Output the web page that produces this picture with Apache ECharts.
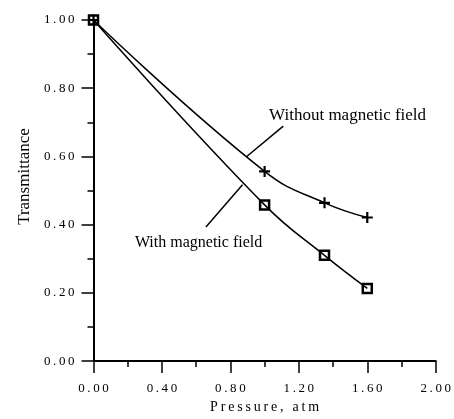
<!DOCTYPE html>
<html>
<head>
<meta charset="utf-8">
<script src="https://cdn.jsdelivr.net/npm/echarts@6/dist/echarts.min.js"></script>
<style>html,body{margin:0;padding:0;background:#fff}#c{width:454px;height:419px}</style>
</head>
<body>
<div id="c"></div>
<script>
// Data
var pressure = [0.00, 1.00, 1.35, 1.60];
var withoutField = [1.00, 0.556, 0.464, 0.421];
var withField = [1.00, 0.458, 0.310, 0.213];
var xTicks = [0.00, 0.40, 0.80, 1.20, 1.60, 2.00];
var yTicks = [0.00, 0.20, 0.40, 0.60, 0.80, 1.00];
var labelWithout = 'Without magnetic field';
var labelWith = 'With magnetic field';
var xTitle = 'Pressure, atm';
var yTitle = 'Transmittance';
// annotation leader lines (data coordinates) and label anchors
var leaderWithout = [[1.109, 0.689], [0.894, 0.599]];
var leaderWith = [[0.871, 0.517], [0.657, 0.393]];
var anchorWithout = [1.485, 0.720];
var anchorWith = [0.614, 0.348];

var TS = '\u2009';
function spaced(s){ return s.split('').join(TS); }
var serif = '"Liberation Serif", "Times New Roman", serif';

function pairs(xs, ys){ return xs.map(function(x,i){ return [x, ys[i]]; }); }

var plusPath = 'path://M4,0H6V4H10V6H6V10H4V6H0V4H4Z';

var chart = echarts.init(document.getElementById('c'), null, {renderer:'canvas'});
chart.setOption({
  animation: false,
  backgroundColor: '#fff',
  grid: {left: 93.5, right: 15, top: 20, bottom: 54.5, containLabel: false},
  xAxis: {
    type: 'value', min: 0, max: 2, interval: 0.4,
    name: spaced(xTitle), nameLocation: 'middle', nameGap: 28,
    nameTextStyle: {fontFamily: serif, fontSize: 14, color: '#000'},
    axisLine: {show: true, onZero: false, lineStyle: {color: '#000', width: 2}},
    axisTick: {show: true, inside: false, length: 12, lineStyle: {color: '#000', width: 1.5}},
    minorTick: {show: true, splitNumber: 2, length: 6, lineStyle: {color: '#000', width: 1.5}},
    axisLabel: {margin: 21, fontFamily: serif, fontSize: 13, color: '#000',
      formatter: function(v){ return spaced(v.toFixed(2)); }},
    splitLine: {show: false}
  },
  yAxis: {
    type: 'value', min: 0, max: 1, interval: 0.2,
    name: yTitle, nameLocation: 'middle', nameGap: 60, nameRotate: 90,
    nameTextStyle: {fontFamily: serif, fontSize: 17, color: '#000', padding: [0, 0, 0, 28]},
    axisLine: {show: true, onZero: false, lineStyle: {color: '#000', width: 2}},
    axisTick: {show: true, inside: false, length: 12, lineStyle: {color: '#000', width: 1.5}},
    minorTick: {show: true, splitNumber: 2, length: 6, lineStyle: {color: '#000', width: 1.5}},
    axisLabel: {margin: 19, fontFamily: serif, fontSize: 13, color: '#000',
      formatter: function(v){ return spaced(v.toFixed(2)); }},
    splitLine: {show: false}
  },
  series: [
    {
      name: labelWithout, type: 'line', smooth: 0.45,
      data: pairs(pressure, withoutField),
      symbol: plusPath, symbolSize: 11,
      itemStyle: {color: '#000'},
      lineStyle: {color: '#000', width: 1.5},
      z: 3,
      markLine: {
        silent: true, symbol: 'none', animation: false,
        lineStyle: {color: '#000', width: 1.5, type: 'solid'},
        label: {show: false},
        data: [[{coord: leaderWithout[0]}, {coord: leaderWithout[1]}]]
      },
      markPoint: {
        silent: true, symbol: 'circle', symbolSize: 0, animation: false,
        label: {show: true, position: 'inside', formatter: labelWithout,
          fontFamily: serif, fontSize: 17, color: '#000'},
        data: [{coord: anchorWithout}]
      }
    },
    {
      name: labelWith, type: 'line', smooth: 0.45,
      data: pairs(pressure, withField),
      symbol: 'rect', symbolSize: 9,
      itemStyle: {color: 'rgba(0,0,0,0)', borderColor: '#000', borderWidth: 2.5},
      lineStyle: {color: '#000', width: 1.5},
      z: 4,
      markLine: {
        silent: true, symbol: 'none', animation: false,
        lineStyle: {color: '#000', width: 1.5, type: 'solid'},
        label: {show: false},
        data: [[{coord: leaderWith[0]}, {coord: leaderWith[1]}]]
      },
      markPoint: {
        silent: true, symbol: 'circle', symbolSize: 0, animation: false,
        label: {show: true, position: 'inside', formatter: labelWith,
          fontFamily: serif, fontSize: 16, color: '#000'},
        data: [{coord: anchorWith}]
      }
    }
  ]
});
</script>
</body>
</html>
